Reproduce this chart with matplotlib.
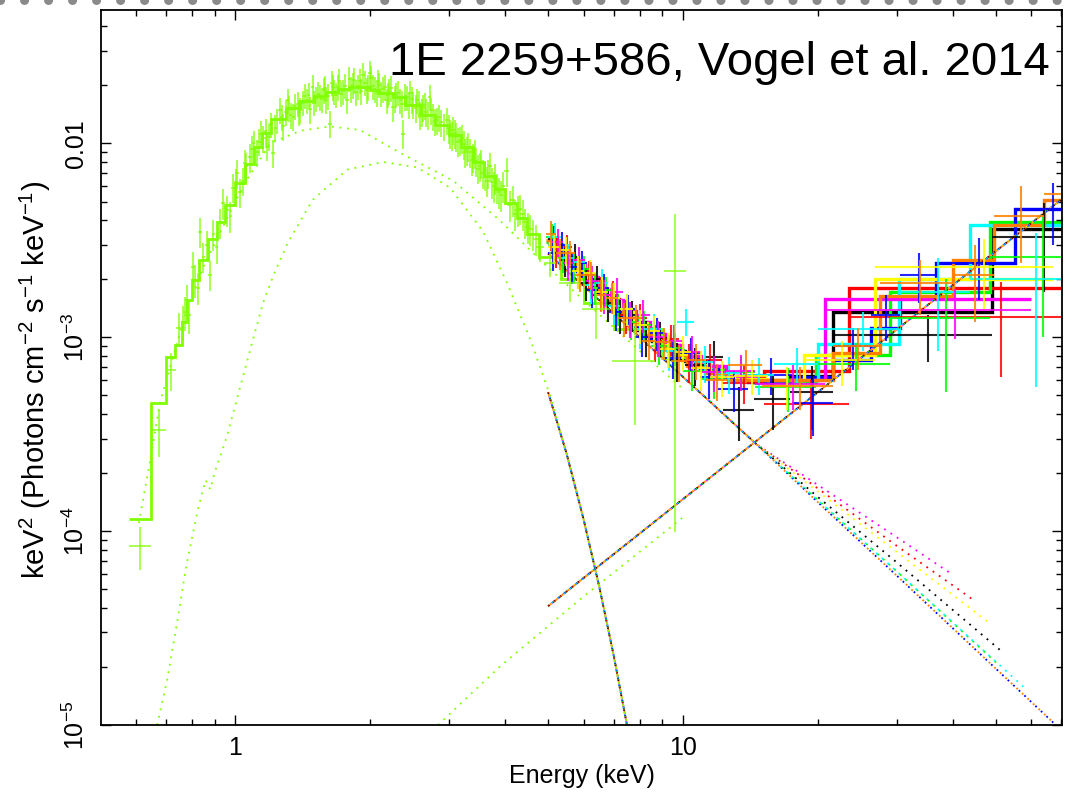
import numpy as np
import matplotlib
matplotlib.use("Agg")
import matplotlib.pyplot as plt
from matplotlib.lines import Line2D
from matplotlib.ticker import FixedLocator, FixedFormatter, NullFormatter, LogLocator

plt.rcParams['font.family'] = ['Liberation Sans', 'DejaVu Sans']
plt.rcParams['mathtext.fontset'] = 'custom'
plt.rcParams['mathtext.rm'] = 'Liberation Sans'
plt.rcParams['mathtext.it'] = 'Liberation Sans:italic'
plt.rcParams['mathtext.bf'] = 'Liberation Sans:bold'

# ---------------- XMM (green-yellow) data ----------------
xmm_E = [0.615, 0.675, 0.72, 0.75, 0.765, 0.773, 0.78, 0.79, 0.806, 0.815,
         0.827, 0.835, 0.85, 0.866, 0.88, 0.895, 0.91, 0.925, 0.94, 0.96,
         0.975, 0.99, 1.01, 1.025, 1.04, 1.06, 1.08, 1.10, 1.12, 1.14,
         1.155, 1.18, 1.20, 1.215, 1.24, 1.26, 1.28, 1.31, 1.33, 1.35,
         1.38, 1.40, 1.43, 1.45, 1.47, 1.49, 1.52, 1.55, 1.58, 1.60,
         1.63, 1.655, 1.68, 1.71, 1.74, 1.78, 1.80, 1.83, 1.86, 1.90,
         1.93, 1.97, 2.00, 2.03, 2.07, 2.10, 2.14, 2.18, 2.21, 2.25,
         2.29, 2.34, 2.37, 2.42, 2.46, 2.50, 2.55, 2.59, 2.63, 2.67,
         2.72, 2.77, 2.82, 2.89, 2.97, 3.02, 3.07, 3.12, 3.18, 3.24,
         3.29, 3.35, 3.40, 3.46, 3.52, 3.58, 3.65, 3.71, 3.78, 3.84,
         3.92, 4.04, 4.10, 4.17, 4.28, 4.39, 4.50, 4.62, 4.80, 5.05,
         5.6, 6.4, 7.8, 9.6,
         1.005, 1.05, 1.09, 1.13, 1.17, 1.19, 1.23, 1.27, 1.30, 1.32,
         1.36, 1.39, 1.42, 1.46, 1.50, 1.535, 1.565, 1.59, 1.615, 1.645,
         1.665, 1.695, 1.725, 1.76, 1.815, 1.845, 1.88, 1.915, 1.95, 1.985,
         2.015, 2.05, 2.085, 2.12, 2.16, 2.195, 2.23, 2.27, 2.31, 2.36,
         2.40, 2.44, 2.48, 2.53, 2.57, 2.61, 2.65, 2.70, 2.745, 2.795,
         2.85, 2.93, 3.00, 3.045, 3.10, 3.15, 3.21, 3.265, 3.32, 3.375,
         3.43, 3.49, 3.55, 3.61, 3.68, 3.745, 3.81, 3.88, 3.97, 4.22,
         4.33, 4.45, 4.56, 4.70]
xmm_dE = [0.035, 0.025, 0.017, 0.01, 0.007, 0.006, 0.006, 0.007, 0.008, 0.006,
          0.007, 0.007, 0.008, 0.008, 0.008, 0.008, 0.008, 0.008, 0.009, 0.009,
          0.008, 0.009, 0.009, 0.009, 0.01, 0.01, 0.01, 0.01, 0.01, 0.01,
          0.01, 0.011, 0.011, 0.011, 0.012, 0.012, 0.012, 0.012, 0.012, 0.012,
          0.013, 0.013, 0.013, 0.013, 0.013, 0.014, 0.014, 0.014, 0.015, 0.015,
          0.015, 0.015, 0.015, 0.016, 0.016, 0.017, 0.017, 0.017, 0.017, 0.018,
          0.018, 0.018, 0.019, 0.019, 0.019, 0.02, 0.02, 0.02, 0.02, 0.021,
          0.021, 0.022, 0.022, 0.022, 0.023, 0.023, 0.024, 0.024, 0.024, 0.025,
          0.025, 0.026, 0.027, 0.03, 0.03, 0.03, 0.03, 0.03, 0.03, 0.03,
          0.03, 0.03, 0.03, 0.03, 0.03, 0.035, 0.035, 0.035, 0.035, 0.04,
          0.04, 0.05, 0.05, 0.05, 0.06, 0.06, 0.06, 0.07, 0.1, 0.15,
          0.3, 0.45, 0.85, 0.55,
          0.009, 0.01, 0.01, 0.01, 0.01, 0.01, 0.011, 0.012, 0.012, 0.012,
          0.013, 0.013, 0.013, 0.013, 0.014, 0.014, 0.014, 0.015, 0.015, 0.015,
          0.015, 0.016, 0.016, 0.016, 0.017, 0.017, 0.017, 0.018, 0.018, 0.018,
          0.019, 0.019, 0.019, 0.02, 0.02, 0.02, 0.02, 0.021, 0.021, 0.022,
          0.022, 0.022, 0.023, 0.023, 0.024, 0.024, 0.024, 0.025, 0.025, 0.026,
          0.027, 0.03, 0.03, 0.03, 0.03, 0.03, 0.03, 0.03, 0.03, 0.03,
          0.03, 0.03, 0.03, 0.035, 0.035, 0.035, 0.035, 0.04, 0.04, 0.05,
          0.05, 0.06, 0.06, 0.07]
xmm_y = [8.4e-5, 3.3e-4, 6.8e-4, 1.11e-3, 1.2e-3, 1.34e-3, 1.55e-3, 1.3e-3, 2.3e-3, 1.97e-3,
         1.8e-3, 3.5e-3, 2.6e-3, 3.0e-3, 2.1e-3, 3.4e-3, 2.9e-3, 3.9e-3, 4.9e-3, 4.5e-3,
         4.2e-3, 5.9e-3, 7.0e-3, 5.6e-3, 6.4e-3, 7.6e-3, 8.5e-3, 1.00e-2, 9.0e-3, 1.12e-2,
         1.06e-2, 9.6e-3, 1.25e-2, 8.9e-3, 1.31e-2, 1.48e-2, 1.22e-2, 1.66e-2, 1.40e-2, 1.37e-2,
         1.60e-2, 1.48e-2, 1.76e-2, 1.66e-2, 1.50e-2, 1.95e-2, 1.70e-2, 1.73e-2, 1.88e-2, 1.66e-2,
         1.26e-2, 1.95e-2, 1.78e-2, 2.10e-2, 1.85e-2, 1.66e-2, 2.15e-2, 1.99e-2, 1.83e-2, 2.10e-2,
         2.25e-2, 1.88e-2, 2.31e-2, 1.96e-2, 1.81e-2, 2.00e-2, 1.90e-2, 1.66e-2, 1.86e-2, 1.53e-2,
         1.78e-2, 1.66e-2, 1.12e-2, 1.72e-2, 1.81e-2, 1.58e-2, 1.66e-2, 1.40e-2, 1.53e-2, 1.45e-2,
         1.73e-2, 1.38e-2, 1.31e-2, 1.28e-2, 1.31e-2, 1.12e-2, 1.17e-2, 1.08e-2, 1.04e-2, 9.9e-3,
         9.2e-3, 9.0e-3, 8.5e-3, 8.1e-3, 7.6e-3, 7.0e-3, 6.4e-3, 7.6e-3, 6.0e-3, 5.9e-3,
         5.4e-3, 7.2e-3, 4.8e-3, 5.1e-3, 4.5e-3, 4.3e-3, 3.7e-3, 3.4e-3, 2.9e-3, 2.4e-3,
         1.9e-3, 1.4e-3, 7.5e-4, 2.2e-3,
         6.3e-3, 7.9e-3, 9.3e-3, 1.02e-2, 1.15e-2, 1.08e-2, 1.20e-2, 1.36e-2, 1.45e-2, 1.52e-2,
         1.55e-2, 1.45e-2, 1.62e-2, 1.78e-2, 1.62e-2, 1.80e-2, 1.68e-2, 1.92e-2, 1.75e-2, 2.05e-2,
         1.84e-2, 1.95e-2, 1.80e-2, 1.98e-2, 1.90e-2, 2.12e-2, 1.96e-2, 1.86e-2, 2.05e-2, 1.95e-2,
         2.18e-2, 1.90e-2, 2.08e-2, 1.80e-2, 1.95e-2, 1.78e-2, 1.92e-2, 1.70e-2, 1.82e-2, 1.60e-2,
         1.75e-2, 1.58e-2, 1.68e-2, 1.52e-2, 1.60e-2, 1.45e-2, 1.57e-2, 1.40e-2, 1.48e-2, 1.30e-2,
         1.36e-2, 1.22e-2, 1.20e-2, 1.10e-2, 1.13e-2, 1.02e-2, 1.06e-2, 9.0e-3, 9.6e-3, 8.2e-3,
         8.9e-3, 7.4e-3, 7.9e-3, 6.8e-3, 7.0e-3, 6.3e-3, 6.6e-3, 5.6e-3, 6.0e-3, 4.3e-3,
         4.6e-3, 3.9e-3, 3.6e-3, 3.2e-3]
xmm_rel_err = [0.25, 0.27, 0.22, 0.2, 0.2, 0.2, 0.2, 0.2, 0.19, 0.19,
               0.19, 0.18, 0.18, 0.18, 0.18, 0.18, 0.18, 0.18, 0.18, 0.18,
               0.18, 0.17, 0.17, 0.17, 0.17, 0.17, 0.17, 0.16, 0.16, 0.16,
               0.16, 0.16, 0.15, 0.16, 0.15, 0.15, 0.16, 0.15, 0.15, 0.16,
               0.15, 0.15, 0.15, 0.15, 0.16, 0.15, 0.15, 0.15, 0.15, 0.15,
               0.16, 0.15, 0.15, 0.15, 0.15, 0.15, 0.15, 0.15, 0.15, 0.15,
               0.15, 0.15, 0.15, 0.15, 0.15, 0.15, 0.15, 0.15, 0.15, 0.16,
               0.15, 0.15, 0.17, 0.15, 0.15, 0.16, 0.15, 0.16, 0.16, 0.16,
               0.15, 0.16, 0.16, 0.16, 0.16, 0.17, 0.16, 0.17, 0.17, 0.17,
               0.17, 0.17, 0.17, 0.17, 0.17, 0.17, 0.18, 0.17, 0.18, 0.18,
               0.18, 0.17, 0.18, 0.18, 0.18, 0.18, 0.18, 0.18, 0.16, 0.15,
               0.2, 0.3, 0.53, 0.955,
               0.17, 0.17, 0.17, 0.16, 0.16, 0.16, 0.16, 0.15, 0.15, 0.15,
               0.15, 0.15, 0.15, 0.15, 0.15, 0.15, 0.15, 0.15, 0.15, 0.15,
               0.15, 0.15, 0.15, 0.15, 0.15, 0.15, 0.15, 0.15, 0.15, 0.15,
               0.15, 0.15, 0.15, 0.15, 0.15, 0.15, 0.15, 0.16, 0.15, 0.16,
               0.16, 0.16, 0.16, 0.16, 0.16, 0.16, 0.16, 0.16, 0.16, 0.16,
               0.16, 0.16, 0.17, 0.17, 0.17, 0.17, 0.17, 0.17, 0.17, 0.17,
               0.17, 0.17, 0.17, 0.17, 0.17, 0.18, 0.18, 0.18, 0.18, 0.18,
               0.18, 0.18, 0.18, 0.18]

# XMM model (histogram) : bin edges and values
xmm_model_edges = [0.58, 0.65, 0.70, 0.735, 0.76, 0.78, 0.80, 0.83, 0.87, 0.91, 0.95, 1.0,
                   1.05, 1.1, 1.15, 1.2, 1.3, 1.4, 1.5, 1.6, 1.7, 1.8, 1.9, 2.0, 2.1, 2.25,
                   2.4, 2.6, 2.8, 3.0, 3.2, 3.4, 3.6, 3.8, 4.0, 4.26, 4.49, 4.77, 5.34,
                   6.0, 7.0, 9.0, 10.1]
xmm_model_vals = [1.15e-4, 4.6e-4, 7.9e-4, 9.1e-4, 1.2e-3, 1.55e-3, 1.97e-3, 2.5e-3, 3.2e-3,
                  3.9e-3, 4.8e-3, 6.2e-3, 7.8e-3, 9.6e-3, 0.0113, 0.0133, 0.0152, 0.0165,
                  0.0175, 0.0184, 0.019, 0.0194, 0.0194, 0.0189, 0.0182, 0.0172, 0.0157,
                  0.014, 0.0124, 0.011, 0.0095, 0.008, 0.0068, 0.0058, 0.0049, 0.0041,
                  0.0034, 0.0026, 0.0020, 0.0015, 0.0011, 0.00078]

# XMM model components (dotted)
xmm_pl_E = [0.61, 0.646, 0.68, 0.72, 0.78, 0.85, 0.95, 1.05, 1.2, 1.4, 1.63, 1.9, 2.34,
            3.07, 3.9, 4.8, 6.0, 8.0, 10.1]
xmm_pl_y = [1.1e-4, 2.3e-4, 4.6e-4, 7.3e-4, 1.4e-3, 2.3e-3, 3.9e-3, 6.2e-3, 0.0100, 0.0116,
            0.0122, 0.0117, 8.9e-3, 6.4e-3, 4.0e-3, 2.5e-3, 1.55e-3, 8.5e-4, 5.3e-4]
xmm_bb_E = [0.67, 0.705, 0.742, 0.78, 0.823, 0.844, 0.86, 0.88, 0.90, 0.96, 1.026, 1.10,
            1.155, 1.22, 1.31, 1.49, 1.78, 2.14, 2.55, 3.02, 3.58, 4.05, 4.58, 5.05, 5.5,
            6.0, 6.5, 7.0, 7.5, 7.8]
xmm_bb_y = [1.0e-5, 1.7e-5, 3.36e-5, 6.8e-5, 1.24e-4, 1.57e-4, 1.83e-4, 1.64e-4, 2.0e-4,
            3.1e-4, 5.5e-4, 1.0e-3, 1.5e-3, 2.1e-3, 3.05e-3, 5.1e-3, 7.3e-3, 8.0e-3, 7.5e-3,
            5.9e-3, 3.5e-3, 1.9e-3, 9.5e-4, 5.0e-4, 2.5e-4, 1.15e-4, 5.2e-5, 2.3e-5, 1.0e-5,
            6e-6]
xmm_hard_E = [2.84, 3.9, 6.0, 9.5, 10.1]
xmm_hard_y = [1.0e-5, 2.0e-5, 4.6e-5, 1.07e-4, 1.2e-4]

# ---------------- NuSTAR data sets (8 colours) ----------------
nu_colors = ['#000000', '#ff0000', '#00ff00', '#0000ff',
             '#00ffff', '#ff00ff', '#ffff00', '#ff8000']
nu_edges = [
    [5.0, 5.3, 5.6, 5.9, 6.25, 6.6, 7.0, 7.45, 7.95, 8.55, 9.25, 10.1, 11.2, 12.3, 14.4, 17.3, 21.6, 49.0, 79.0],
    [5.05, 5.35, 5.65, 6.0, 6.35, 6.75, 7.2, 7.7, 8.3, 9.0, 9.8, 10.8, 12.2, 15.2, 23.5, 79.0],
    [4.95, 5.25, 5.55, 5.85, 6.2, 6.55, 6.95, 7.4, 7.9, 8.5, 9.2, 10.0, 11.0, 12.5, 14.5, 19.8, 29.0, 48.5, 79.0],
    [5.0, 5.25, 5.5, 5.8, 6.1, 6.45, 6.85, 7.3, 7.8, 8.4, 9.1, 9.9, 10.9, 12.0, 14.0, 17.5, 21.6, 26.3, 30.6, 36.8, 55.0, 79.0],
    [5.0, 5.35, 5.7, 6.05, 6.4, 6.8, 7.25, 7.75, 8.3, 8.95, 9.7, 10.6, 11.8, 13.5, 16.0, 20.0, 30.4, 43.7, 79.0],
    [5.1, 5.4, 5.7, 6.05, 6.45, 6.9, 7.35, 7.85, 8.45, 9.15, 9.95, 11.0, 12.5, 14.5, 20.8, 60.0],
    [5.0, 5.3, 5.65, 6.0, 6.4, 6.8, 7.25, 7.75, 8.3, 8.9, 9.6, 10.4, 11.5, 13.0, 15.5, 18.6, 26.8, 67.0],
    [4.95, 5.2, 5.45, 5.75, 6.05, 6.4, 6.75, 7.15, 7.6, 8.1, 8.7, 9.4, 10.2, 11.2, 12.6, 15.0, 21.6, 27.5, 40.0, 49.6, 64.0, 79.0],
]
nu_model = [
    [3.05e-3, 2.7e-3, 2.4e-3, 2.1e-3, 1.85e-3, 1.6e-3, 1.42e-3, 1.24e-3, 1.09e-3, 9.6e-4, 8.5e-4, 7.5e-4, 6.8e-4, 6.2e-4, 5.9e-4, 6.3e-4, 1.35e-3, 3.6e-3],
    [3.0e-3, 2.65e-3, 2.35e-3, 2.05e-3, 1.8e-3, 1.57e-3, 1.38e-3, 1.2e-3, 1.05e-3, 9.1e-4, 8.0e-4, 7.1e-4, 6.3e-4, 6.7e-4, 1.8e-3],
    [3.1e-3, 2.75e-3, 2.45e-3, 2.15e-3, 1.9e-3, 1.66e-3, 1.45e-3, 1.27e-3, 1.11e-3, 9.7e-4, 8.6e-4, 7.6e-4, 6.8e-4, 6.2e-4, 5.9e-4, 8.1e-4, 1.7e-3, 3.9e-3],
    [3.05e-3, 2.8e-3, 2.5e-3, 2.2e-3, 1.95e-3, 1.7e-3, 1.48e-3, 1.3e-3, 1.13e-3, 9.9e-4, 8.7e-4, 7.7e-4, 6.9e-4, 6.2e-4, 5.9e-4, 6.2e-4, 7.6e-4, 1.11e-3, 1.6e-3, 2.4e-3, 4.6e-3],
    [3.0e-3, 2.65e-3, 2.3e-3, 2.0e-3, 1.75e-3, 1.53e-3, 1.34e-3, 1.17e-3, 1.03e-3, 9.0e-4, 7.9e-4, 7.0e-4, 6.3e-4, 6.0e-4, 6.0e-4, 9.2e-4, 2.0e-3, 3.8e-3],
    [2.95e-3, 2.65e-3, 2.35e-3, 2.05e-3, 1.78e-3, 1.55e-3, 1.36e-3, 1.19e-3, 1.04e-3, 9.1e-4, 8.0e-4, 7.1e-4, 6.3e-4, 6.0e-4, 1.57e-3],
    [3.05e-3, 2.7e-3, 2.35e-3, 2.05e-3, 1.78e-3, 1.54e-3, 1.35e-3, 1.18e-3, 1.04e-3, 9.1e-4, 8.1e-4, 7.2e-4, 6.5e-4, 6.1e-4, 6.0e-4, 8.1e-4, 2.0e-3],
    [3.15e-3, 2.85e-3, 2.55e-3, 2.25e-3, 1.98e-3, 1.74e-3, 1.53e-3, 1.34e-3, 1.17e-3, 1.02e-3, 9.0e-4, 7.9e-4, 7.1e-4, 6.5e-4, 6.0e-4, 6.0e-4, 8.3e-4, 1.63e-3, 2.5e-3, 3.8e-3, 5.1e-3],
]
nu_flux = [
    [3.2e-3, 2.5e-3, 2.6e-3, 1.9e-3, 2.0e-3, 1.5e-3, 1.3e-3, 1.3e-3, 1.0e-3, 9.9e-4, 7.6e-4, 7.2e-4, 7.9e-4, 4.2e-4, 4.8e-4, 5.2e-4, 1.02e-3, 3.3e-3],
    [2.8e-3, 2.9e-3, 2.2e-3, 2.1e-3, 1.7e-3, 1.65e-3, 1.3e-3, 1.25e-3, 9.5e-4, 9.8e-4, 7.5e-4, 7.6e-4, 5.8e-4, 4.5e-4, 1.27e-3],
    [3.3e-3, 2.6e-3, 2.3e-3, 2.25e-3, 1.8e-3, 1.75e-3, 1.4e-3, 1.2e-3, 1.15e-3, 9.0e-4, 8.8e-4, 6.7e-4, 6.1e-4, 6.6e-4, 5.5e-4, 7.3e-4, 1.26e-3, 2.6e-3],
    [2.7e-3, 3.0e-3, 2.3e-3, 2.4e-3, 1.75e-3, 1.8e-3, 1.35e-3, 1.4e-3, 1.0e-3, 1.05e-3, 7.8e-4, 8.3e-4, 6.2e-4, 5.4e-4, 6.4e-4, 4.6e-4, 9.0e-4, 1.3e-3, 2.1e-3, 2.4e-3, 4.6e-3],
    [3.3e-3, 2.55e-3, 2.45e-3, 1.85e-3, 1.9e-3, 1.45e-3, 1.4e-3, 1.1e-3, 1.1e-3, 8.5e-4, 1.2e-3, 7.4e-4, 6.5e-4, 6.4e-4, 7.3e-4, 1.1e-3, 1.7e-3, 2.0e-3],
    [3.1e-3, 2.4e-3, 2.5e-3, 1.95e-3, 1.65e-3, 1.7e-3, 1.25e-3, 1.3e-3, 1.0e-3, 9.6e-4, 8.4e-4, 6.6e-4, 6.7e-4, 5.7e-4, 1.38e-3],
    [2.9e-3, 2.8e-3, 2.2e-3, 2.15e-3, 1.7e-3, 1.6e-3, 1.4e-3, 1.15e-3, 1.08e-3, 8.7e-4, 8.4e-4, 6.9e-4, 6.2e-4, 6.3e-4, 5.6e-4, 7.6e-4, 2.3e-3],
    [3.4e-3, 2.7e-3, 2.7e-3, 2.1e-3, 2.1e-3, 1.65e-3, 1.6e-3, 1.25e-3, 1.25e-3, 9.6e-4, 9.4e-4, 7.5e-4, 7.6e-4, 6.0e-4, 7.2e-4, 5.6e-4, 9.0e-4, 1.9e-3, 2.1e-3, 4.2e-3, 5.5e-3],
]
nu_err = [
    [5.2e-4, 4.5e-4, 4.2e-4, 3.6e-4, 3.4e-4, 3.0e-4, 2.6e-4, 2.4e-4, 2.1e-4, 2.0e-4, 1.7e-4, 1.6e-4, 1.7e-4, 1.3e-4, 1.5e-4, 1.9e-4, 2.8e-4, 1.6e-3],
    [5.2e-4, 4.7e-4, 4.2e-4, 3.6e-4, 3.3e-4, 3.0e-4, 2.6e-4, 2.3e-4, 2.1e-4, 1.8e-4, 1.7e-4, 1.6e-4, 1.3e-4, 1.5e-4, 6.5e-4],
    [5.5e-4, 4.7e-4, 4.2e-4, 3.8e-4, 3.4e-4, 3.0e-4, 2.6e-4, 2.3e-4, 2.1e-4, 1.8e-4, 1.7e-4, 1.4e-4, 1.3e-4, 1.3e-4, 1.4e-4, 2.0e-4, 7.4e-4, 1.6e-3],
    [5.2e-4, 4.8e-4, 4.3e-4, 3.9e-4, 3.4e-4, 3.1e-4, 2.7e-4, 2.5e-4, 2.1e-4, 2.0e-4, 1.7e-4, 1.6e-4, 1.4e-4, 1.3e-4, 1.4e-4, 1.5e-4, 2.2e-4, 3.5e-4, 6.0e-4, 8.5e-4, 1.6e-3],
    [5.6e-4, 4.7e-4, 4.2e-4, 3.6e-4, 3.4e-4, 3.0e-4, 2.6e-4, 2.3e-4, 2.1e-4, 1.8e-4, 1.9e-4, 1.6e-4, 1.4e-4, 1.4e-4, 1.5e-4, 2.5e-4, 8.5e-4, 1.45e-3],
    [5.2e-4, 4.6e-4, 4.3e-4, 3.8e-4, 3.3e-4, 3.1e-4, 2.6e-4, 2.5e-4, 2.1e-4, 2.0e-4, 1.7e-4, 1.4e-4, 1.4e-4, 1.5e-4, 4.0e-4],
    [5.2e-4, 4.7e-4, 4.2e-4, 3.6e-4, 3.3e-4, 3.0e-4, 2.6e-4, 2.3e-4, 2.1e-4, 1.8e-4, 1.7e-4, 1.6e-4, 1.3e-4, 1.3e-4, 1.4e-4, 2.0e-4, 9.0e-4],
    [5.8e-4, 4.9e-4, 4.4e-4, 3.9e-4, 3.5e-4, 3.1e-4, 2.9e-4, 2.5e-4, 2.2e-4, 2.0e-4, 1.8e-4, 1.6e-4, 1.6e-4, 1.3e-4, 1.4e-4, 1.4e-4, 2.2e-4, 6.0e-4, 9.0e-4, 1.8e-3, 3.0e-3],
]

# NuSTAR model components (dotted)
nu_bb_E = [5.0, 5.5, 6.0, 6.5, 7.0, 7.5, 7.8]
nu_bb_y = [5.2e-4, 2.5e-4, 1.15e-4, 5.2e-5, 2.3e-5, 1.0e-5, 6e-6]
nu_hard_E = [5.0, 10.0, 20.0, 40.0, 79.0]
nu_hard_y = [4.1e-5, 1.46e-4, 5.2e-4, 1.85e-3, 6.4e-3]
nu_soft_E = [
    [5.0, 9.6, 14.6, 20.0, 30.0, 52.0],
    [5.0, 9.6, 14.6, 20.0, 30.0, 44.6],
    [5.0, 9.6, 14.6, 20.0, 30.0, 50.0],
    [5.0, 9.6, 14.6, 20.0, 30.0, 68.0],
    [5.0, 9.6, 14.6, 20.0, 30.0, 58.0],
    [5.0, 9.6, 14.6, 20.0, 30.0, 39.4],
    [5.0, 9.6, 14.6, 20.0, 30.0, 48.0],
    [5.0, 9.6, 14.6, 20.0, 30.0, 70.0],
]
nu_soft_y = [
    [2.7e-3, 6.8e-4, 2.8e-4, 1.50e-4, 6.9e-5, 2.35e-5],
    [2.7e-3, 6.8e-4, 2.8e-4, 1.66e-4, 8.4e-5, 4.4e-5],
    [2.7e-3, 6.8e-4, 2.8e-4, 1.45e-4, 6.2e-5, 2.1e-5],
    [2.7e-3, 6.8e-4, 2.8e-4, 1.41e-4, 5.9e-5, 1.0e-5],
    [2.7e-3, 6.8e-4, 2.8e-4, 1.44e-4, 6.2e-5, 1.55e-5],
    [2.7e-3, 6.8e-4, 2.8e-4, 1.73e-4, 9.3e-5, 6.1e-5],
    [2.7e-3, 6.8e-4, 2.8e-4, 1.60e-4, 7.8e-5, 3.4e-5],
    [2.7e-3, 6.8e-4, 2.8e-4, 1.41e-4, 5.9e-5, 9.4e-6],
]

xmm_color = '#80ff00'
title_text = '1E 2259+586, Vogel et al. 2014'

# ---------------- figure ----------------
W, H = 1074, 792
fig = plt.figure(figsize=(W / 100, H / 100), dpi=100)
ax = fig.add_axes([101 / W, 1 - 725 / H, (1062 - 101) / W, (725 - 10) / H])
ax.set_xscale('log')
ax.set_yscale('log')
ax.set_xlim(0.502, 70.2)
ax.set_ylim(1e-5, 0.0486)

dot_lw = 1.3
def dotted(i):
    return (i * 0.45, (1.0, 3.2))

# components
for i, c in enumerate(nu_colors):
    ax.plot(nu_bb_E, nu_bb_y, color=c, lw=dot_lw, linestyle=dotted(i))
    ax.plot(nu_hard_E, nu_hard_y, color=c, lw=dot_lw, linestyle=dotted(i))
    ax.plot(nu_soft_E[i], nu_soft_y[i], color=c, lw=dot_lw, linestyle=dotted(i))
ax.plot(xmm_pl_E, xmm_pl_y, color=xmm_color, lw=dot_lw, linestyle=(0, (1.0, 3.2)))
ax.plot(xmm_bb_E, xmm_bb_y, color=xmm_color, lw=dot_lw, linestyle=(0, (1.0, 3.2)))
ax.plot(xmm_hard_E, xmm_hard_y, color=xmm_color, lw=dot_lw, linestyle=(0, (1.0, 3.2)))

# NuSTAR data and models
for i, c in enumerate(nu_colors):
    e = np.array(nu_edges[i])
    lo, hi = e[:-1], e[1:]
    xc = 0.5 * (lo + hi)
    ax.errorbar(xc, nu_flux[i], xerr=[xc - lo, hi - xc], yerr=nu_err[i],
                fmt='none', ecolor=c, elinewidth=1.5, alpha=0.85)
for i, c in enumerate(nu_colors):
    ax.stairs(nu_model[i], nu_edges[i], baseline=None, color=c, lw=2.4)

# XMM data and model
xmm_err = np.array(xmm_y) * np.array(xmm_rel_err)
ax.errorbar(xmm_E, xmm_y, xerr=xmm_dE, yerr=xmm_err, fmt='none',
            ecolor=xmm_color, elinewidth=1.2, alpha=0.8)
ax.stairs(xmm_model_vals, xmm_model_edges, baseline=None, color=xmm_color, lw=2.0)

# axes styling
for s in ax.spines.values():
    s.set_linewidth(1.3)
ax.tick_params(which='both', direction='in', top=True, right=True, width=1.0)
ax.tick_params(which='major', length=7.5)
ax.tick_params(which='minor', length=4.5)
ax.xaxis.set_major_locator(FixedLocator([1, 10]))
ax.xaxis.set_major_formatter(FixedFormatter(['1', '10']))
ax.xaxis.set_minor_locator(LogLocator(base=10, subs=np.arange(2, 10) * 1.0, numticks=20))
ax.xaxis.set_minor_formatter(NullFormatter())
ax.yaxis.set_major_locator(FixedLocator([1e-5, 1e-4, 1e-3, 1e-2]))
ax.yaxis.set_major_formatter(FixedFormatter([r'$\mathregular{10^{-5}}$', r'$\mathregular{10^{-4}}$',
                                             r'$\mathregular{10^{-3}}$', '0.01']))
ax.yaxis.set_minor_locator(LogLocator(base=10, subs=np.arange(2, 10) * 1.0, numticks=20))
ax.yaxis.set_minor_formatter(NullFormatter())
ax.tick_params(axis='x', labelsize=18, pad=8)
ax.tick_params(axis='y', labelsize=18, pad=9)
for lbl in ax.get_yticklabels():
    lbl.set_rotation(90)
    lbl.set_va('center')
    lbl.set_ha('right')

ax.set_xlabel('Energy (keV)', fontsize=18, labelpad=3)
ax.set_ylabel(r'keV$^{\mathregular{2}}$ (Photons cm$^{\mathregular{-2}}$ s$^{\mathregular{-1}}$ keV$^{\mathregular{-1}}$)',
              fontsize=21)
ax.yaxis.set_label_coords(-0.05, 0.4825)

fig.text(1050 / W, 1 - 75 / H, title_text, ha='right', va='baseline', fontsize=34)

# dotted border at the top of the slide
fig.add_artist(Line2D([0, 1], [1.0, 1.0], transform=fig.transFigure, color='#8a8a8a',
                      lw=6.5, linestyle=(0, (0.01, 2.65)), dash_capstyle='round',
                      solid_capstyle='round'))

fig.savefig('out.png', dpi=100)
